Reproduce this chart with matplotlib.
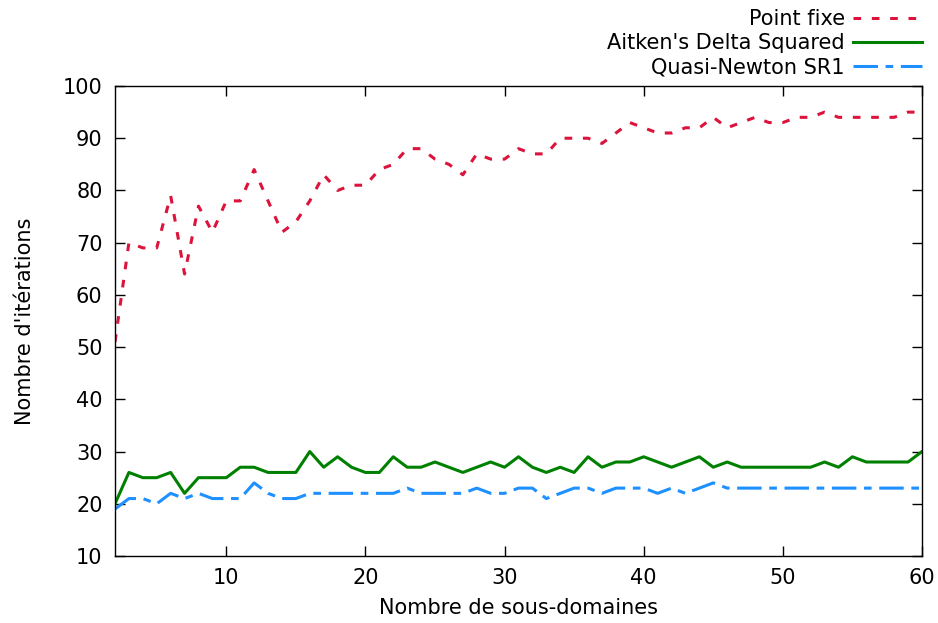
import matplotlib
matplotlib.use("Agg")
import matplotlib.pyplot as plt

n_domains = list(range(2, 61))
point_fixe = [51, 70, 69, 69, 79, 64, 77, 72, 78, 78,
              84, 78, 72, 74, 78, 83, 80, 81, 81, 84,
              85, 88, 88, 86, 85, 83, 87, 86, 86, 88,
              87, 87, 90, 90, 90, 89, 91, 93, 92, 91,
              91, 92, 92, 94, 92, 93, 94, 93, 93, 94,
              94, 95, 94, 94, 94, 94, 94, 95, 95]
aitken = [20, 26, 25, 25, 26, 22, 25, 25, 25, 27,
          27, 26, 26, 26, 30, 27, 29, 27, 26, 26,
          29, 27, 27, 28, 27, 26, 27, 28, 27, 29,
          27, 26, 27, 26, 29, 27, 28, 28, 29, 28,
          27, 28, 29, 27, 28, 27, 27, 27, 27, 27,
          27, 28, 27, 29, 28, 28, 28, 28, 30]
sr1 = [19, 21, 21, 20, 22, 21, 22, 21, 21, 21,
       24, 22, 21, 21, 22, 22, 22, 22, 22, 22,
       22, 23, 22, 22, 22, 22, 23, 22, 22, 23,
       23, 21, 22, 23, 23, 22, 23, 23, 23, 22,
       23, 22, 23, 24, 23, 23, 23, 23, 23, 23,
       23, 23, 23, 23, 23, 23, 23, 23, 23]

labels = ["Point fixe", "Aitken's Delta Squared", "Quasi-Newton SR1"]
x_ticks = [10, 20, 30, 40, 50, 60]
y_ticks = [10, 20, 30, 40, 50, 60, 70, 80, 90, 100]

plt.rcParams['font.family'] = ['DejaVu Sans']
fs = 15

fig = plt.figure(figsize=(9.38, 6.23), dpi=100)
ax = fig.add_axes([115/938, 1-556/623, (922-115)/938, (556-86)/623])

ax.plot(n_domains, point_fixe, color='#dc143c', lw=2.2, dashes=(2.5, 3.5), label=labels[0])
ax.plot(n_domains, aitken, color='#008000', lw=2.2, label=labels[1])
ax.plot(n_domains, sr1, color='#1e90ff', lw=2.2, dashes=(8, 2.5, 2.5, 2.5), label=labels[2])

ax.set_xlim(2, 60)
ax.set_ylim(10, 100)
ax.set_xticks(x_ticks)
ax.set_yticks(y_ticks)
ax.tick_params(direction='in', length=7, width=1, top=True, right=True,
               labelsize=fs, pad=9)
for s in ax.spines.values():
    s.set_linewidth(1)
ax.set_xlabel("Nombre de sous-domaines", fontsize=fs, labelpad=7)
ax.set_ylabel("Nombre d'itérations", fontsize=fs, labelpad=20)

fig.legend(loc='upper right', bbox_to_anchor=(926/938, 1 - 5/623), frameon=False,
           markerfirst=False, fontsize=fs, handlelength=3.3, handletextpad=0.4,
           labelspacing=0.19, borderaxespad=0.0, borderpad=0.2)

fig.savefig("out.png", dpi=100)
